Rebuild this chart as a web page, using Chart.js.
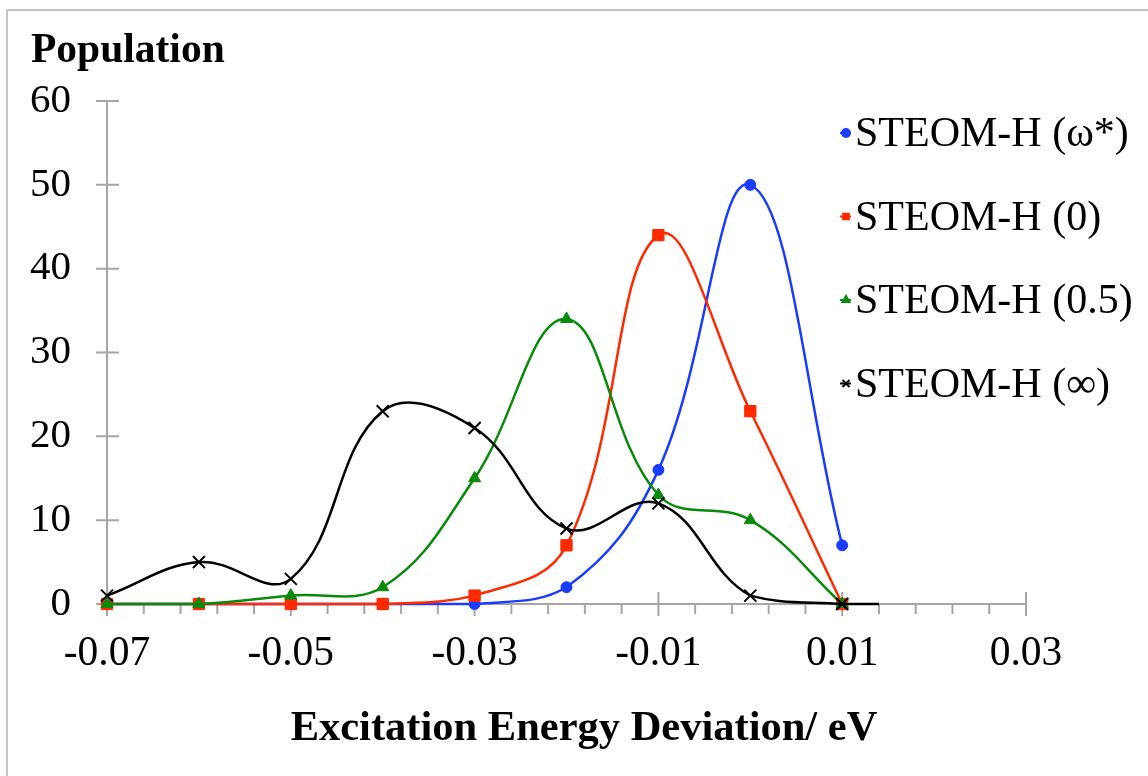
<!DOCTYPE html>
<html>
<head>
<meta charset="utf-8">
<style>
  html, body { margin: 0; padding: 0; background: #fff; }
  #wrap { position: relative; width: 1148px; height: 776px; }
  #frame { position: absolute; left: 6px; top: 9px; right: 0; bottom: 0;
           border-top: 2px solid #c4c4c4; border-left: 2px solid #c4c4c4; }
  canvas { position: absolute; left: 0; top: 0; }
</style>
<script src="https://cdn.jsdelivr.net/npm/chart.js@4/dist/chart.umd.min.js"></script>
</head>
<body>
<div id="wrap">
  <div id="frame"></div>
  <canvas id="popChart" width="1148" height="776"></canvas>
</div>
<script>
// Excitation energy deviation (eV) at which populations were counted
const deviations = [-0.07, -0.06, -0.05, -0.04, -0.03, -0.02, -0.01, 0.00, 0.01];
const deviationsInf = [-0.07, -0.06, -0.05, -0.04, -0.03, -0.02, -0.01, 0.00, 0.01, 0.014];

const popOmega = [0, 0, 0, 0, 0, 2, 16, 50, 7];
const popZero = [0, 0, 0, 0, 1, 7, 44, 23, 0];
const popHalf = [0, 0, 1, 2, 15, 34, 13, 10, 0];
const popInf = [1, 5, 3, 23, 21, 9, 12, 1, 0, 0];

const seriesNames = ["STEOM-H (\u03c9*)", "STEOM-H (0)", "STEOM-H (0.5)", "STEOM-H (\u221e)"];
const seriesColors = ["#1a3cff", "#ff2a00", "#0a8a0a", "#000000"];

const xMajorLabels = [-0.07, -0.05, -0.03, -0.01, 0.01, 0.03];

const FONT = "'Liberation Serif', 'Times New Roman', serif";

const toPoints = (xs, ys) => ys.map((y, i) => ({ x: xs[i], y: y }));

// axis ticks drawn by hand: majors cross the axis, minors hang below
const tickPlugin = {
    id: "crossTicks",
    beforeDatasetsDraw(chart) {
        const ctx = chart.ctx;
        const xs = chart.scales.x, ys = chart.scales.y;
        const y0 = ys.getPixelForValue(0);
        const x0 = xs.getPixelForValue(-0.07);
        ctx.save();
        ctx.strokeStyle = "#a6a6a6";
        ctx.lineWidth = 2;
        ctx.beginPath();
        xs.ticks.forEach(t => {
            const px = xs.getPixelForValue(t.value);
            const major = xMajorLabels.some(m => Math.abs(m - t.value) < 1e-6);
            if (major) { ctx.moveTo(px, y0 - 12); ctx.lineTo(px, y0 + 12); }
            else { ctx.moveTo(px, y0); ctx.lineTo(px, y0 + 10); }
        });
        ys.ticks.forEach(t => {
            const py = ys.getPixelForValue(t.value);
            ctx.moveTo(x0 - 11, py); ctx.lineTo(x0 + 12, py);
        });
        ctx.stroke();
        ctx.restore();
    }
};

// titles and the legend sit over the plot, so paint them here
const textPlugin = {
    id: "textBits",
    afterDraw(chart) {
        const ctx = chart.ctx;
        ctx.save();
        ctx.fillStyle = "#000";
        ctx.textBaseline = "alphabetic";
        ctx.font = "bold 41.5px " + FONT;
        ctx.textAlign = "left";
        ctx.fillText("Population", 31, 62);
        ctx.textAlign = "center";
        ctx.font = "bold 42.5px " + FONT;
        ctx.fillText("Excitation Energy Deviation/ eV", 584, 740);

        ctx.font = "42px " + FONT;
        ctx.textAlign = "left";
        ctx.textBaseline = "middle";
        // legend keeps the original series order, datasets are stacked the other way
        chart.data.datasets.slice().reverse().forEach((ds, i) => {
            const cy = 133 + i * 83.5;
            ctx.strokeStyle = ds.borderColor;
            ctx.fillStyle = ds.backgroundColor;
            ctx.lineWidth = 2;
            ctx.beginPath();
            ctx.moveTo(840, cy); ctx.lineTo(851, cy);
            ctx.stroke();
            Chart.helpers.drawPoint(ctx, {
                pointStyle: ds.pointStyle, radius: ds.pointStyle === "crossRot" ? 5 : 4,
                rotation: 0, borderWidth: ds.pointStyle === "crossRot" ? 1.5 : 1
            }, 846, cy);
            ctx.fillStyle = "#000";
            ctx.fillText(ds.label, 855, cy + 2);
        });
        ctx.restore();
    }
};

const makeSet = (i, xs, ys, style, radius) => ({
    label: seriesNames[i],
    data: toPoints(xs, ys),
    borderColor: seriesColors[i],
    backgroundColor: seriesColors[i],
    pointStyle: style,
    pointRadius: radius,
    pointBorderWidth: style === "crossRot" ? 2 : 1,
    borderWidth: 2.5,
    tension: 0.4,
    clip: false,
    fill: false
});

const blackSet = makeSet(3, deviationsInf, popInf, "crossRot", 8.5);
blackSet.pointRadius = popInf.map((v, i) => deviationsInf[i] > 0.0101 ? 0 : 8.5);

// first dataset is painted on top, like the last series in the original
new Chart(document.getElementById("popChart"), {
    type: "line",
    data: {
        datasets: [
            blackSet,
            makeSet(2, deviations, popHalf, "triangle", 7),
            makeSet(1, deviations, popZero, "rect", 8),
            makeSet(0, deviations, popOmega, "circle", 5.5)
        ]
    },
    options: {
        responsive: false,
        animation: false,
        layout: { padding: { left: 0, top: 101, right: 122, bottom: 0 } },
        plugins: { legend: { display: false }, tooltip: { enabled: false } },
        elements: { line: { capBezierPoints: true } },
        scales: {
            x: {
                type: "linear",
                min: -0.07,
                max: 0.03,
                grid: { drawOnChartArea: false, drawTicks: false },
                border: { display: true, color: "#a6a6a6", width: 2 },
                ticks: {
                    stepSize: 0.004,
                    autoSkip: false,
                    maxRotation: 0,
                    padding: 25,
                    color: "#000",
                    font: { family: FONT, size: 41.5 },
                    callback: v => {
                        const m = xMajorLabels.find(l => Math.abs(l - v) < 1e-6);
                        return m === undefined ? "" : m.toFixed(2);
                    }
                },
                afterFit: s => { s.height = 172; }
            },
            y: {
                min: 0,
                max: 60,
                grid: { drawOnChartArea: false, drawTicks: false },
                border: { display: true, color: "#a6a6a6", width: 2 },
                ticks: {
                    stepSize: 10,
                    padding: 36,
                    color: "#000",
                    font: { family: FONT, size: 41 }
                },
                afterFit: s => { s.width = 107; }
            }
        }
    },
    plugins: [tickPlugin, textPlugin]
});
</script>
</body>
</html>
